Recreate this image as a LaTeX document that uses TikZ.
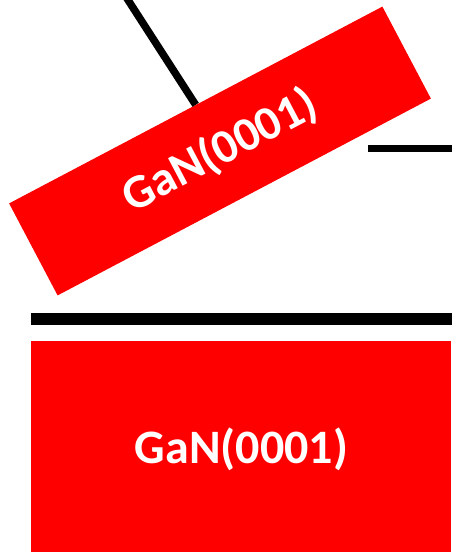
\documentclass[tikz,border=0pt]{standalone}
\usepackage{fontspec}
\setmainfont{Carlito}
\begin{document}
\begin{tikzpicture}[x=1pt,y=-1pt,
  slab/.style={fill=red,inner sep=0pt,text=white,font=\bfseries\fontsize{48}{58}\selectfont},
  thinline/.style={line width=7.5pt},
  thickline/.style={line width=12pt}]
\useasboundingbox (0,0) rectangle (451,552);
\node[slab,minimum width=422pt,minimum height=104pt,rotate=27.8] (rot) at (220,151) {GaN(0001)};
\node[slab,minimum width=420pt,minimum height=220pt,anchor=north west] (base) at (31,341) {};
\node[text=white,font=\bfseries\fontsize{48}{58}\selectfont] (lbl) at (241.5,449) {GaN(0001)};
\coordinate (top) at (124.8,-5);
\draw[thinline] (top) -- (rot.north);
\coordinate (hl) at (368,148.5);
\coordinate (hr) at (458,148.5);
\draw[thinline] (hl) -- (hr);
\coordinate (tl) at (31,318.5);
\coordinate (tr) at (458,318.5);
\draw[thickline] (tl) -- (tr);
\end{tikzpicture}
\end{document}
